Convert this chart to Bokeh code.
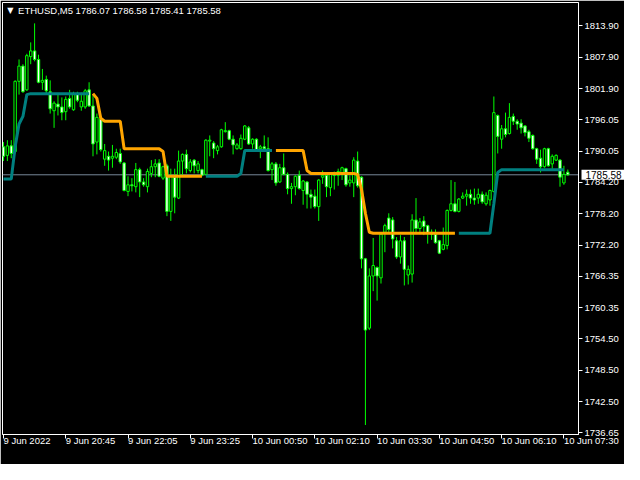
import numpy as np
from bokeh.plotting import figure
from bokeh.models import ColumnDataSource, FixedTicker, PrintfTickFormatter, Label, Span, Range1d
from bokeh.embed import file_html
from bokeh.resources import INLINE

# ---------------- data (ETHUSD, M5) ----------------
symbol = "ETHUSD,M5"
last_ohlc = ["1786.07", "1786.58", "1785.41", "1785.58"]
last_price = 1785.58

opens = [
    1790.89, 1789.27, 1791.07, 1789.99, 1803.32, 1806.21, 1801.70, 1808.01, 1809.09, 1807.47,
    1803.14, 1803.68, 1801.34, 1797.74, 1799.00, 1798.46, 1797.56, 1800.08, 1797.92, 1800.98,
    1798.46, 1798.46, 1801.70, 1798.64, 1791.79, 1796.12, 1788.55, 1789.09, 1788.73, 1788.91,
    1789.63, 1787.83, 1782.42, 1783.68, 1783.32, 1786.56, 1784.22, 1783.32, 1785.84, 1787.11,
    1787.83, 1784.94, 1787.29, 1778.63, 1785.12, 1781.16, 1788.19, 1789.45, 1786.38, 1788.37,
    1786.38, 1786.56, 1785.66, 1791.97, 1791.61, 1790.17, 1790.89, 1793.77, 1793.95, 1792.33,
    1790.53, 1790.53, 1792.33, 1794.49, 1791.43, 1792.33, 1790.53, 1790.89, 1790.53, 1786.56,
    1787.65, 1784.22, 1786.92, 1785.66, 1782.96, 1783.32, 1785.48, 1782.60, 1784.22, 1781.88,
    1781.52, 1779.54, 1785.12, 1785.48, 1783.14, 1785.66, 1785.48, 1785.66, 1786.74, 1784.04,
    1784.04, 1788.19, 1785.12, 1769.63, 1756.47, 1766.38, 1768.00, 1766.02, 1774.67, 1777.37,
    1777.01, 1773.05, 1769.99, 1773.05, 1766.56, 1766.74, 1777.01, 1775.39, 1776.83, 1775.93,
    1774.67, 1774.31, 1773.05, 1771.43, 1772.15, 1778.82, 1780.08, 1778.63, 1781.16, 1781.52,
    1781.88, 1781.16, 1781.16, 1781.88, 1780.08, 1780.80, 1782.42, 1796.84, 1792.33, 1794.31,
    1793.41, 1796.66, 1795.75, 1795.39, 1794.85, 1793.77, 1793.05, 1790.53, 1788.73, 1787.11,
    1790.53, 1787.65, 1788.37, 1788.37, 1784.04, 1786.07,
]
highs = [
    1791.79, 1792.15, 1792.15, 1803.50, 1807.47, 1806.57, 1808.55, 1810.71, 1814.32, 1808.37,
    1805.67, 1804.40, 1803.50, 1799.54, 1800.80, 1800.26, 1800.44, 1801.70, 1801.34, 1801.34,
    1801.16, 1801.88, 1803.14, 1800.80, 1797.20, 1796.66, 1791.43, 1789.99, 1791.25, 1790.53,
    1790.53, 1788.01, 1785.30, 1784.94, 1787.83, 1786.92, 1784.94, 1786.74, 1788.37, 1788.55,
    1788.55, 1787.29, 1787.65, 1786.74, 1786.74, 1790.17, 1789.63, 1790.35, 1788.55, 1788.55,
    1788.19, 1786.74, 1792.33, 1793.05, 1791.97, 1791.25, 1794.31, 1795.57, 1794.13, 1793.05,
    1791.61, 1793.23, 1795.03, 1794.85, 1792.51, 1792.51, 1791.25, 1793.05, 1792.69, 1788.01,
    1788.01, 1787.65, 1789.63, 1786.02, 1784.04, 1785.48, 1786.38, 1784.58, 1784.40, 1782.78,
    1782.78, 1784.76, 1786.38, 1786.02, 1786.02, 1786.20, 1786.74, 1787.11, 1786.92, 1785.48,
    1788.91, 1789.99, 1785.30, 1769.81, 1767.82, 1773.59, 1768.18, 1774.31, 1776.29, 1778.27,
    1777.55, 1773.77, 1774.13, 1773.77, 1768.36, 1778.09, 1781.16, 1777.37, 1777.73, 1776.11,
    1775.21, 1775.21, 1773.23, 1775.57, 1779.00, 1784.58, 1784.22, 1781.16, 1782.24, 1782.78,
    1782.78, 1782.96, 1782.96, 1782.42, 1782.24, 1782.78, 1800.44, 1797.02, 1795.03, 1797.38,
    1799.18, 1797.20, 1796.12, 1796.12, 1795.03, 1794.13, 1793.23, 1790.71, 1790.35, 1790.71,
    1790.71, 1789.45, 1789.45, 1788.55, 1787.29, 1786.58,
]
lows = [
    1788.19, 1788.19, 1788.73, 1789.63, 1800.80, 1801.16, 1801.52, 1806.57, 1807.11, 1802.96,
    1801.70, 1800.80, 1797.20, 1794.49, 1796.84, 1795.93, 1795.93, 1798.10, 1797.74, 1799.36,
    1797.74, 1798.10, 1798.46, 1789.09, 1789.45, 1789.99, 1787.29, 1786.38, 1786.92, 1788.55,
    1787.65, 1782.42, 1781.52, 1782.42, 1782.24, 1781.34, 1783.32, 1782.24, 1785.12, 1785.12,
    1785.12, 1784.58, 1777.73, 1776.83, 1778.27, 1780.98, 1785.48, 1785.84, 1786.02, 1785.84,
    1785.84, 1785.30, 1785.48, 1789.09, 1788.73, 1789.45, 1790.71, 1793.59, 1792.15, 1789.45,
    1790.35, 1790.35, 1792.15, 1791.25, 1790.53, 1789.99, 1788.73, 1790.35, 1786.20, 1784.58,
    1783.50, 1784.04, 1785.48, 1781.88, 1780.08, 1781.70, 1782.78, 1779.90, 1779.18, 1779.18,
    1779.18, 1776.83, 1783.86, 1781.34, 1781.52, 1782.78, 1783.50, 1784.58, 1783.32, 1783.32,
    1781.34, 1783.14, 1767.82, 1738.09, 1756.11, 1763.50, 1761.70, 1764.94, 1770.89, 1774.67,
    1771.61, 1769.63, 1768.72, 1764.58, 1764.76, 1765.12, 1774.31, 1774.31, 1774.13, 1772.51,
    1773.23, 1772.51, 1770.53, 1771.25, 1771.43, 1778.63, 1778.45, 1778.45, 1780.98, 1779.72,
    1780.08, 1779.90, 1780.08, 1780.08, 1779.72, 1779.72, 1782.24, 1789.63, 1790.53, 1792.69,
    1793.23, 1795.03, 1794.13, 1793.41, 1792.87, 1791.79, 1790.35, 1787.65, 1786.02, 1786.92,
    1787.11, 1786.74, 1788.19, 1783.32, 1783.68, 1785.41,
]
closes = [
    1789.09, 1791.07, 1789.63, 1803.32, 1806.21, 1801.34, 1808.19, 1809.09, 1807.47, 1803.14,
    1803.50, 1801.52, 1798.10, 1799.18, 1798.46, 1797.38, 1799.90, 1798.46, 1800.98, 1799.72,
    1799.54, 1801.52, 1798.64, 1791.43, 1796.48, 1790.35, 1790.17, 1788.37, 1789.09, 1789.81,
    1788.01, 1782.60, 1783.68, 1783.50, 1786.56, 1784.22, 1783.68, 1786.20, 1787.11, 1787.65,
    1785.30, 1787.11, 1778.63, 1785.30, 1781.34, 1788.19, 1789.45, 1786.74, 1788.01, 1787.29,
    1787.65, 1785.48, 1792.15, 1792.15, 1790.53, 1790.89, 1794.13, 1793.95, 1792.33, 1791.25,
    1791.25, 1792.51, 1794.85, 1791.43, 1792.33, 1790.35, 1790.89, 1790.53, 1786.38, 1787.65,
    1784.04, 1786.92, 1785.66, 1782.96, 1783.32, 1785.30, 1782.96, 1784.40, 1781.88, 1781.34,
    1779.54, 1784.58, 1785.48, 1783.32, 1785.66, 1785.48, 1786.20, 1786.92, 1783.68, 1784.58,
    1788.37, 1783.50, 1769.63, 1756.11, 1766.38, 1768.36, 1766.38, 1774.31, 1775.93, 1775.21,
    1773.41, 1769.99, 1773.05, 1767.64, 1767.64, 1777.01, 1775.39, 1776.65, 1775.75, 1774.49,
    1774.31, 1772.69, 1770.71, 1772.33, 1778.82, 1780.08, 1778.63, 1780.98, 1781.52, 1781.88,
    1781.16, 1780.80, 1781.88, 1780.44, 1781.70, 1782.60, 1797.38, 1792.87, 1794.31, 1793.23,
    1796.48, 1795.75, 1795.21, 1794.49, 1793.59, 1792.51, 1790.53, 1788.55, 1787.11, 1790.53,
    1787.29, 1789.09, 1789.27, 1785.12, 1785.66, 1785.58,
]

# step indicator level per bar and its trend (1 = up / teal, -1 = down / orange)
levels = [
    1784.76, 1784.76, 1784.76, 1790.89, 1795.21, 1796.66, 1800.80,
    1800.98, 1800.98, 1800.98, 1800.98, 1800.98, 1800.98, 1800.98, 1800.98,
    1800.98, 1800.98, 1800.98, 1800.98, 1800.98, 1800.98, 1800.98, 1800.98,
    1800.98, 1800.08, 1796.30,
    1795.75, 1795.75, 1795.75, 1795.75, 1795.75,
    1790.53, 1790.53, 1790.53, 1790.53, 1790.53, 1790.53, 1790.53, 1790.53, 1790.53, 1790.53,
    1789.99,
    1785.30, 1785.30, 1785.30, 1785.30, 1785.30, 1785.30, 1785.30, 1785.30, 1785.30, 1785.30,
    1785.30, 1785.30, 1785.30, 1785.30, 1785.30, 1785.30, 1785.30, 1785.30, 1785.30,
    1785.84,
    1790.17, 1790.17, 1790.17, 1790.17, 1790.17, 1790.17, 1790.17, 1790.17,
    1790.17, 1790.17, 1790.17, 1790.17, 1790.17, 1790.17, 1790.17, 1790.17,
    1786.38,
    1785.84, 1785.84, 1785.84, 1785.84, 1785.84, 1785.84, 1785.84, 1785.84, 1785.84, 1785.84,
    1785.84, 1785.84,
    1785.66, 1782.78, 1778.27, 1774.67,
    1774.49, 1774.49, 1774.49, 1774.49, 1774.49, 1774.49, 1774.49, 1774.49, 1774.49, 1774.49,
    1774.49, 1774.49, 1774.49, 1774.49, 1774.49, 1774.49, 1774.49, 1774.49, 1774.49, 1774.49,
    1774.49, 1774.49,
    1774.49, 1774.49, 1774.49, 1774.49, 1774.49, 1774.49, 1774.49, 1774.49, 1774.49,
    1780.08, 1786.02,
    1786.56, 1786.56, 1786.56, 1786.56, 1786.56, 1786.56, 1786.56, 1786.56, 1786.56, 1786.56,
    1786.56, 1786.56, 1786.56, 1786.56, 1786.56, 1786.56, 1786.56,
]
trend = [
    1, 1, 1, 1, 1, 1, 1, 1, 1, 1, 1, 1, 1, 1, 1, 1, 1, 1, 1, 1, 1, 1, 1,
    -1, -1, -1, -1, -1, -1, -1, -1, -1, -1, -1, -1, -1, -1, -1, -1, -1, -1, -1, -1, -1, -1,
    -1, -1, -1, -1, -1, -1, -1,
    1, 1, 1, 1, 1, 1, 1, 1, 1, 1, 1, 1, 1, 1, 1, 1, 1, 1,
    -1, -1, -1, -1, -1, -1, -1, -1, -1, -1, -1, -1, -1, -1, -1, -1, -1, -1, -1, -1, -1, -1,
    -1, -1, -1, -1, -1, -1, -1, -1, -1, -1, -1, -1, -1, -1, -1, -1, -1, -1, -1, -1, -1, -1,
    -1, -1, -1,
    1, 1, 1, 1, 1, 1, 1, 1, 1, 1, 1, 1, 1, 1, 1, 1, 1, 1, 1, 1, 1, 1, 1, 1, 1, 1, 1, 1,
]

price_ticks = [1736.65, 1742.50, 1748.50, 1754.50, 1760.35, 1766.35, 1772.20,
               1778.20, 1784.20, 1790.05, 1796.05, 1801.90, 1807.90, 1813.90]
time_tick_bars = [0, 16, 32, 48, 64, 80, 96, 112, 128, 144]
time_tick_labels = ["9 Jun 2022", "9 Jun 20:45", "9 Jun 22:05", "9 Jun 23:25", "10 Jun 00:50",
                    "10 Jun 02:10", "10 Jun 03:30", "10 Jun 04:50", "10 Jun 06:10", "10 Jun 07:30"]

# ---------------- build ----------------
FONT = "Liberation Sans"
FS = "9.5px"
LIME = "#00ff00"
Y0, Y1 = 1736.29, 1818.28
X0, X1 = -0.25, 147.75

o = np.array(opens); h = np.array(highs); l = np.array(lows); c = np.array(closes)
idx = np.arange(len(o))
bull = c >= o
src = ColumnDataSource(dict(
    x=idx, high=h, low=l,
    top=np.maximum(o, c), bottom=np.minimum(o, c),
    fill=np.where(bull, "black", "white"),
))

lv = np.array(levels, dtype=float)
tr = np.array(trend)
lidx = np.arange(len(lv))
teal_y = np.where(tr == 1, lv, np.nan)
orange_y = np.where(tr == -1, lv, np.nan)

p = figure(width=624, height=464, output_backend="svg", toolbar_location=None,
           x_range=Range1d(X0, X1), y_range=Range1d(Y0, Y1),
           y_axis_location="right",
           background_fill_color="black", border_fill_color="black",
           min_border_left=2, min_border_right=46, min_border_top=2, min_border_bottom=4)
p.grid.visible = False
p.outline_line_color = "white"
p.outline_line_width = 1

# current price line (under the bars)
p.add_layout(Span(location=last_price, dimension="width", line_color="#778899",
                  line_width=1, level="underlay"))

# candles
p.segment(x0="x", y0="high", x1="x", y1="low", source=src, line_color=LIME, line_width=1)
p.vbar(x="x", top="top", bottom="bottom", width=0.62, source=src,
       fill_color="fill", line_color=LIME, line_width=1)

# step indicator
p.line(lidx, teal_y, line_color="#008080", line_width=3)
p.line(lidx, orange_y, line_color="#ffa500", line_width=3)

# y axis (right)
ya = p.yaxis[0]
ya.ticker = FixedTicker(ticks=price_ticks)
ya.formatter = PrintfTickFormatter(format="%.2f")
ya.axis_line_color = "white"
ya.major_tick_line_color = "white"
ya.minor_tick_line_color = None
ya.major_tick_in = 0
ya.major_tick_out = 4
ya.major_label_standoff = 2
ya.major_label_text_color = "white"
ya.major_label_text_font = FONT
ya.major_label_text_font_size = FS

# x axis (bottom): labels start at their tick (tiny negative angle -> left anchored)
xa = p.xaxis[0]
xa.ticker = FixedTicker(ticks=time_tick_bars)
xa.major_label_overrides = dict(zip(time_tick_bars, time_tick_labels))
xa.major_label_orientation = -0.0001
xa.axis_line_color = "white"
xa.major_tick_line_color = "white"
xa.minor_tick_line_color = None
xa.major_tick_in = 0
xa.major_tick_out = 4
xa.major_label_standoff = 2
xa.major_label_text_color = "white"
xa.major_label_text_font = FONT
xa.major_label_text_font_size = FS

# title (symbol + last OHLC), inside the chart window
p.add_layout(Label(x=1.75, y=Y1, y_offset=-8, text="\u25bc", text_align="center",
                   text_baseline="middle", text_color="white",
                   text_font="DejaVu Sans", text_font_size="8px"))
p.add_layout(Label(x=3.75, y=Y1, y_offset=-8, text=symbol + "  " + " ".join(last_ohlc),
                   text_align="left", text_baseline="middle", text_color="white",
                   text_font=FONT, text_font_size=FS))

# current price tag on the price scale (side panel so it is not clipped to the frame)
p.add_layout(Label(x=X1, y=last_price, x_offset=3, text=f"{last_price:.2f}",
                   text_align="left", text_baseline="middle", text_color="black",
                   background_fill_color="white", padding=(4, 1),
                   text_font=FONT, text_font_size="10px"), "below")

open("out.html", "w").write(file_html(p, INLINE))
